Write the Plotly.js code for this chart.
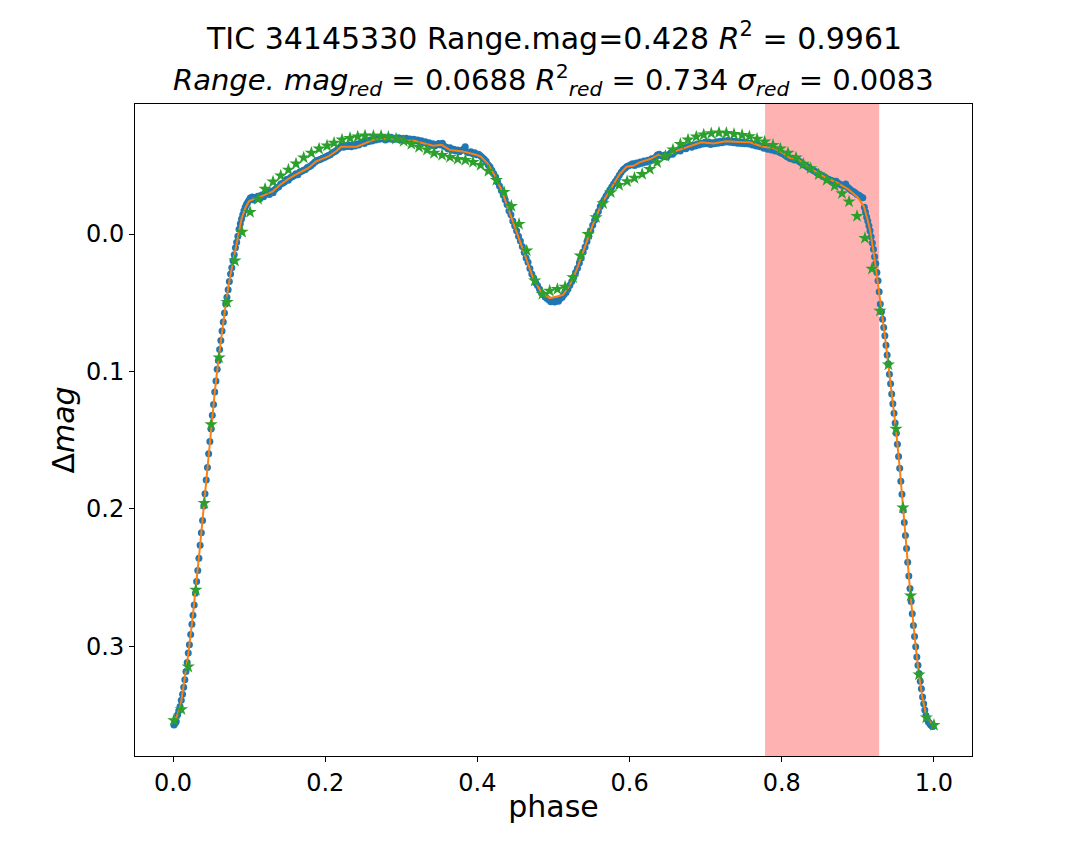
<!DOCTYPE html>
<html>
<head>
<meta charset="utf-8">
<script src="https://cdn.plot.ly/plotly-3.0.1.min.js"></script>
<style>html,body{margin:0;padding:0;background:#fff;}#chart{width:1080px;height:864px;}</style>
</head>
<body>
<div id="chart"></div>
<script>
// Blue observed points (phase, delta mag)
const obsPhase = [
0.0012,0.0030,0.0042,0.0060,0.0075,0.0092,0.0108,0.0125,0.0140,0.0155,0.0170,0.0186,0.0200,0.0215,0.0232,0.0248,0.0262,0.0278,0.0294,0.0310,
0.0325,0.0340,0.0356,0.0372,0.0388,0.0404,0.0420,0.0436,0.0452,0.0468,0.0484,0.0500,0.0516,0.0532,0.0548,0.0564,0.0580,0.0596,0.0612,0.0628,
0.0644,0.0660,0.0676,0.0692,0.0708,0.0724,0.0740,0.0756,0.0772,0.0788,0.0804,0.0820,0.0836,0.0852,0.0868,0.0884,0.0900,0.0916,0.0932,0.0948,
0.0964,0.0980,0.0996,
0.1015,0.1040,0.1065,0.1090,0.1115,0.1140,0.1165,0.1190,0.1215,0.1240,0.1265,0.1290,0.1315,0.1340,0.1365,0.1390,0.1415,0.1440,0.1465,0.1490,
0.1515,0.1540,0.1565,0.1590,0.1615,0.1640,0.1665,0.1690,0.1715,0.1740,0.1765,0.1790,0.1815,0.1840,0.1865,0.1890,0.1915,0.1940,0.1965,0.1990,
0.2015,0.2040,0.2065,0.2090,0.2115,0.2140,0.2165,0.2190,0.2215,0.2240,0.2265,0.2290,0.2315,0.2340,0.2365,0.2390,0.2415,0.2440,0.2465,0.2490,
0.2515,0.2540,0.2565,0.2590,0.2615,0.2640,0.2665,0.2690,0.2715,0.2740,0.2765,0.2790,0.2815,0.2840,0.2865,0.2890,0.2915,0.2940,0.2965,0.2990,
0.3015,0.3040,0.3065,0.3090,0.3115,0.3140,0.3165,0.3190,0.3215,0.3240,0.3265,0.3290,0.3315,0.3340,0.3365,0.3390,0.3415,0.3440,0.3465,0.3490,
0.3515,0.3540,0.3565,0.3590,0.3615,0.3640,0.3665,0.3690,0.3715,0.3740,0.3765,0.3790,0.3815,0.3840,0.3865,0.3890,0.3915,0.3940,0.3965,0.3990,
0.4015,0.4040,0.4065,0.4090,
0.4115,0.4140,0.4165,0.4190,0.4215,0.4240,0.4265,0.4290,0.4315,0.4340,0.4365,0.4390,0.4415,0.4440,0.4465,0.4490,0.4515,0.4540,0.4565,0.4590,
0.4615,0.4640,0.4665,0.4690,0.4715,0.4740,0.4765,0.4790,0.4815,0.4840,0.4865,0.4890,0.4915,0.4940,0.4965,0.4990,0.5015,0.5040,0.5065,0.5090,
0.5115,0.5140,0.5165,0.5190,0.5215,0.5240,0.5265,0.5290,0.5315,0.5340,0.5365,0.5390,0.5415,0.5440,0.5465,0.5490,0.5515,0.5540,0.5565,0.5590,
0.5615,0.5640,0.5665,0.5690,0.5715,0.5740,0.5765,0.5790,0.5815,0.5840,0.5865,0.5890,0.5915,0.5940,0.5965,0.5990,0.6015,
0.6040,0.6065,0.6090,0.6115,0.6140,0.6165,0.6190,0.6215,0.6240,0.6265,0.6290,0.6315,0.6340,0.6365,0.6390,0.6415,0.6440,0.6465,0.6490,0.6515,
0.6540,0.6565,0.6590,0.6615,0.6640,0.6665,0.6690,0.6715,0.6740,0.6765,0.6790,0.6815,0.6840,0.6865,0.6890,0.6915,0.6940,0.6965,0.6990,0.7015,
0.7040,0.7065,0.7090,0.7115,0.7140,0.7165,0.7190,0.7215,0.7240,0.7265,0.7290,0.7315,0.7340,0.7365,0.7390,0.7415,0.7440,0.7465,0.7490,0.7515,
0.7540,0.7565,0.7590,0.7615,0.7640,0.7665,0.7690,0.7715,0.7740,0.7765,0.7790,0.7815,0.7840,0.7865,0.7890,0.7915,0.7940,0.7965,0.7990,0.8015,
0.8040,0.8065,0.8090,0.8115,0.8140,0.8165,0.8190,0.8215,0.8240,0.8265,0.8290,0.8315,0.8340,0.8365,0.8390,0.8415,0.8440,0.8465,0.8490,0.8515,
0.8540,0.8565,0.8590,0.8615,0.8640,0.8665,0.8690,0.8715,0.8740,0.8765,0.8790,0.8815,0.8840,0.8865,0.8890,0.8915,0.8940,0.8965,0.8990,0.9015,
0.9040,0.9065,
0.9085,0.9100,0.9115,0.9130,0.9145,0.9160,0.9175,0.9190,0.9205,0.9220,0.9235,0.9250,0.9265,0.9280,0.9295,0.9310,0.9325,0.9340,0.9355,0.9370,
0.9385,0.9400,0.9415,0.9430,0.9445,0.9460,0.9475,0.9490,0.9505,0.9520,0.9535,0.9550,0.9565,0.9580,0.9595,0.9610,0.9625,0.9640,0.9655,0.9670,
0.9685,0.9700,0.9715,0.9730,0.9745,0.9760,0.9775,0.9790,0.9805,0.9820,0.9835,0.9850,0.9865,0.9880,0.9895,0.9910,0.9925,0.9940,0.9955,0.9970,
0.9985
];
const obsMag = [
0.3575,0.3560,0.3548,0.3500,0.3470,0.3440,0.3395,0.3350,0.3300,0.3245,0.3185,0.3120,0.3050,0.2990,0.2915,0.2840,0.2775,0.2700,0.2615,0.2530,
0.2450,0.2360,0.2265,0.2175,0.2085,0.1980,0.1890,0.1790,0.1700,0.1600,0.1510,0.1420,0.1320,0.1240,0.1150,0.1070,0.0985,0.0920,0.0840,0.0775,
0.0705,0.0640,0.0575,0.0510,0.0460,0.0405,0.0345,0.0290,0.0245,0.0195,0.0150,0.0100,0.0060,0.0015,-0.0035,-0.0075,-0.0110,-0.0140,-0.0170,-0.0195,
-0.0215,-0.0230,-0.0245,
-0.0262,-0.0270,-0.0248,-0.0268,-0.0275,-0.0258,-0.0285,-0.0272,-0.0290,-0.0302,-0.0288,-0.0312,-0.0300,-0.0325,-0.0338,-0.0345,-0.0365,-0.0370,-0.0380,-0.0398,
-0.0392,-0.0410,-0.0418,-0.0425,-0.0440,-0.0432,-0.0452,-0.0458,-0.0465,-0.0470,-0.0485,-0.0490,-0.0500,-0.0512,-0.0525,-0.0535,-0.0540,-0.0545,-0.0552,-0.0558,
-0.0565,-0.0572,-0.0578,-0.0590,-0.0598,-0.0605,-0.0618,-0.0630,-0.0642,-0.0632,-0.0645,-0.0638,-0.0648,-0.0635,-0.0650,-0.0642,-0.0655,-0.0648,-0.0665,-0.0670,
-0.0660,-0.0678,-0.0672,-0.0685,-0.0678,-0.0692,-0.0685,-0.0698,-0.0690,-0.0702,-0.0695,-0.0685,-0.0700,-0.0692,-0.0705,-0.0688,-0.0698,-0.0690,-0.0702,-0.0685,
-0.0695,-0.0688,-0.0698,-0.0682,-0.0692,-0.0680,-0.0690,-0.0678,-0.0685,-0.0672,-0.0680,-0.0665,-0.0672,-0.0658,-0.0665,-0.0650,-0.0658,-0.0642,-0.0650,-0.0660,
-0.0648,-0.0662,-0.0640,-0.0632,-0.0620,-0.0628,-0.0610,-0.0618,-0.0605,-0.0612,-0.0600,-0.0608,-0.0618,-0.0635,-0.0598,-0.0592,-0.0600,-0.0585,-0.0592,-0.0578,
-0.0582,-0.0570,-0.0558,-0.0545,
-0.0530,-0.0505,-0.0490,-0.0465,-0.0440,-0.0415,-0.0380,-0.0350,-0.0318,-0.0285,-0.0250,-0.0215,-0.0170,-0.0140,-0.0095,-0.0060,-0.0025,0.0015,0.0050,0.0090,
0.0135,0.0175,0.0205,0.0250,0.0290,0.0320,0.0355,0.0375,0.0400,0.0428,0.0440,0.0458,0.0470,0.0480,0.0492,0.0485,0.0495,0.0475,0.0490,0.0470,
0.0460,0.0440,0.0425,0.0400,0.0372,0.0345,0.0315,0.0280,0.0248,0.0210,0.0175,0.0130,0.0095,0.0055,0.0015,-0.0025,-0.0065,-0.0100,-0.0135,-0.0165,
-0.0200,-0.0228,-0.0250,-0.0275,-0.0298,-0.0320,-0.0342,-0.0365,-0.0385,-0.0405,-0.0428,-0.0450,-0.0468,-0.0480,-0.0492,-0.0498,-0.0505,
-0.0512,-0.0500,-0.0518,-0.0508,-0.0525,-0.0515,-0.0532,-0.0522,-0.0538,-0.0530,-0.0548,-0.0540,-0.0560,-0.0575,-0.0582,-0.0570,-0.0565,-0.0575,-0.0562,-0.0578,
-0.0590,-0.0582,-0.0598,-0.0605,-0.0612,-0.0605,-0.0620,-0.0628,-0.0622,-0.0635,-0.0640,-0.0632,-0.0648,-0.0642,-0.0655,-0.0648,-0.0662,-0.0655,-0.0668,-0.0658,
-0.0670,-0.0652,-0.0665,-0.0658,-0.0672,-0.0662,-0.0675,-0.0665,-0.0680,-0.0670,-0.0682,-0.0668,-0.0678,-0.0665,-0.0675,-0.0662,-0.0672,-0.0660,-0.0670,-0.0658,
-0.0668,-0.0655,-0.0662,-0.0648,-0.0655,-0.0642,-0.0650,-0.0635,-0.0642,-0.0625,-0.0635,-0.0618,-0.0628,-0.0612,-0.0620,-0.0605,-0.0612,-0.0598,-0.0590,-0.0585,
-0.0575,-0.0565,-0.0558,-0.0548,-0.0552,-0.0540,-0.0548,-0.0535,-0.0525,-0.0515,-0.0505,-0.0498,-0.0488,-0.0480,-0.0472,-0.0462,-0.0455,-0.0445,-0.0438,-0.0430,
-0.0420,-0.0415,-0.0405,-0.0400,-0.0392,-0.0388,-0.0380,-0.0385,-0.0370,-0.0362,-0.0355,-0.0350,-0.0365,-0.0340,-0.0330,-0.0318,-0.0310,-0.0300,-0.0288,-0.0282,
-0.0272,-0.0265,
-0.0195,-0.0160,-0.0125,-0.0095,-0.0060,-0.0025,0.0020,0.0065,0.0110,0.0165,0.0215,0.0280,0.0340,0.0420,0.0510,0.0565,0.0620,0.0680,0.0740,0.0810,
0.0880,0.0945,0.1020,0.1090,0.1165,0.1235,0.1305,0.1375,0.1450,0.1530,0.1620,0.1705,0.1800,0.1895,0.2010,0.2100,0.2195,0.2290,0.2390,0.2490,
0.2580,0.2675,0.2765,0.2850,0.2930,0.3005,0.3080,0.3140,0.3200,0.3255,0.3310,0.3370,0.3420,0.3465,0.3505,0.3530,0.3550,0.3560,0.3572,0.3580,
0.3585
];

// Orange fitted curve
const fitPhase = [
0.001,0.005,0.010,0.015,0.020,0.025,0.030,0.035,0.040,0.045,0.050,0.055,0.060,0.065,0.070,0.075,0.080,0.085,0.090,0.095,
0.100,0.106,0.112,0.118,0.125,0.131,0.140,0.151,0.164,0.177,0.188,0.204,0.215,0.221,0.241,0.252,0.265,0.274,0.300,0.318,
0.324,0.342,0.353,0.364,0.381,0.398,0.405,0.414,0.423,0.432,0.440,0.451,0.462,0.473,0.484,0.495,0.505,0.5125,0.521,0.530,
0.541,0.552,0.563,0.576,0.587,0.596,0.605,0.613,0.627,0.638,0.648,0.662,0.679,0.694,0.710,0.727,0.745,0.758,0.775,0.789,
0.800,0.811,0.821,0.832,0.846,0.859,0.872,0.887,0.900,0.908,0.912,0.916,0.921,0.925,0.929,0.935,0.940,0.945,0.950,0.955,
0.959,0.964,0.969,0.975,0.980,0.985,0.990,0.997
];
const fitMag = [
0.356,0.351,0.343,0.326,0.306,0.283,0.258,0.230,0.201,0.171,0.141,0.114,0.090,0.068,0.048,0.031,0.016,0.002,-0.011,-0.019,
-0.0240,-0.0255,-0.0265,-0.0280,-0.0296,-0.0310,-0.0356,-0.0400,-0.0441,-0.0478,-0.0529,-0.0565,-0.0607,-0.0636,-0.0636,-0.0663,-0.0689,-0.0694,-0.0689,-0.0680,
-0.0668,-0.0643,-0.0650,-0.0612,-0.0602,-0.0578,-0.0563,-0.0510,-0.0425,-0.0316,-0.0194,-0.0024,0.0146,0.0316,0.0425,0.0466,0.0455,0.0442,0.0376,0.0267,
0.0097,-0.0073,-0.0218,-0.0340,-0.0437,-0.0490,-0.0497,-0.0522,-0.0546,-0.0578,-0.0566,-0.0607,-0.0639,-0.0668,-0.0660,-0.0675,-0.0670,-0.0668,-0.0636,-0.0626,
-0.0595,-0.0554,-0.0546,-0.0497,-0.0449,-0.0408,-0.0376,-0.0328,-0.0267,-0.0200,-0.0120,-0.0030,0.0140,0.0300,0.0490,0.0720,0.0950,0.1180,0.1420,0.1700,
0.1980,0.2300,0.2620,0.2950,0.3200,0.3380,0.3510,0.3570
];

// Green stars (reduced model)
const redPhase = [
0.001,0.011,0.020,0.030,0.041,0.050,0.0605,0.071,0.0813,0.0907,0.1012,0.1117,0.1209,0.1314,0.1415,0.1516,0.1616,0.1717,0.1818,0.1919,
0.2024,0.2116,0.2221,0.2326,0.2427,0.2523,0.2633,0.2734,0.2830,0.2931,0.3031,0.3132,0.3233,0.3338,0.3430,0.3535,0.3640,0.3741,0.3842,0.3942,
0.4043,0.4144,0.4249,0.4350,0.4446,0.4547,0.4648,0.4753,0.4854,0.4950,0.5051,0.5152,0.5257,0.5353,0.5454,0.5559,0.5651,0.5752,0.5862,0.5967,
0.6064,0.6165,0.6265,0.6362,0.6471,0.6570,0.6667,0.6768,0.6877,0.6974,0.7074,0.7175,0.7272,0.7372,0.7478,0.7574,0.7675,0.7775,0.7885,0.7981,
0.8082,0.8187,0.8284,0.8380,0.8485,0.8590,0.8695,0.8792,0.8884,0.8989,0.9093,0.9185,0.9290,0.9401,0.9501,0.9593,0.9694,0.9803,0.9900,1.0000
];
const redMag = [
0.354,0.346,0.315,0.259,0.196,0.1386,0.090,0.0495,0.0194,-0.0015,-0.0160,-0.0255,-0.0328,-0.0381,-0.0425,-0.0468,-0.0512,-0.0556,-0.0590,-0.0621,
-0.0643,-0.0663,-0.0687,-0.0699,-0.0709,-0.0716,-0.0714,-0.0714,-0.0706,-0.0694,-0.0677,-0.0655,-0.0633,-0.0614,-0.0590,-0.0575,-0.0560,-0.0546,-0.0539,-0.0524,
-0.0502,-0.0459,-0.0393,-0.0306,-0.0204,-0.0073,0.0121,0.0340,0.0437,0.0413,0.0401,0.0384,0.0316,0.0158,0.0000,-0.0121,-0.0223,-0.0303,-0.0357,-0.0384,
-0.0408,-0.0437,-0.0473,-0.0522,-0.0568,-0.0614,-0.0655,-0.0687,-0.0709,-0.0723,-0.0733,-0.0738,-0.0735,-0.0728,-0.0721,-0.0711,-0.0692,-0.0672,-0.0648,-0.0621,
-0.0590,-0.0556,-0.0510,-0.0478,-0.0434,-0.0393,-0.0352,-0.0296,-0.0236,-0.0131,0.0030,0.0253,0.0559,0.0950,0.1419,0.1992,0.2632,0.3208,0.3520,0.3575
];

// Highlighted phase interval
const spanStart = 0.778;
const spanEnd = 0.928;

const xTickVals = [0.0, 0.2, 0.4, 0.6, 0.8, 1.0];
const xTickText = ['0.0', '0.2', '0.4', '0.6', '0.8', '1.0'];
const yTickVals = [0.0, 0.1, 0.2, 0.3];
const yTickText = ['0.0', '0.1', '0.2', '0.3'];

const titleLine1 = 'TIC 34145330 Range.mag=0.428 <i>R</i><sup>2</sup> = 0.9961';
const titleLine2 = '<i>Range.</i> <i>mag<sub>red</sub></i> = 0.0688 <i>R</i><sup>2</sup><sub><i>red</i></sub> = 0.734 <i>σ<sub>red</sub></i> = 0.0083';

const FONT = 'DejaVu Sans, sans-serif';

const traces = [
  {x: obsPhase, y: obsMag, type: 'scatter', mode: 'markers',
   marker: {color: '#1f77b4', size: 7, line: {width: 0}}, hoverinfo: 'skip'},
  {x: fitPhase, y: fitMag, type: 'scatter', mode: 'lines',
   line: {color: '#ff7f0e', width: 2}, hoverinfo: 'skip'},
  {x: redPhase, y: redMag, type: 'scatter', mode: 'markers',
   marker: {color: '#2ca02c', size: 10, symbol: 'star', line: {width: 0}}, hoverinfo: 'skip'}
];

const layout = {
  width: 1080, height: 864,
  margin: {l: 135, r: 108, t: 104, b: 108},
  paper_bgcolor: '#ffffff', plot_bgcolor: '#ffffff',
  showlegend: false,
  font: {family: FONT, color: '#000000'},
  xaxis: {
    range: [-0.05, 1.05], showgrid: false, zeroline: false,
    showline: true, mirror: true, linecolor: '#000000', linewidth: 1,
    ticks: 'outside', ticklen: 5, tickwidth: 1, tickcolor: '#000000',
    tickvals: xTickVals, ticktext: xTickText,
    tickfont: {family: FONT, size: 24, color: '#000000'},
    title: {text: 'phase', font: {family: FONT, size: 30, color: '#000000'}, standoff: 0}
  },
  yaxis: {
    range: [0.380, -0.0947], showgrid: false, zeroline: false,
    showline: true, mirror: true, linecolor: '#000000', linewidth: 1,
    ticks: 'outside', ticklen: 5, tickwidth: 1, tickcolor: '#000000',
    tickvals: yTickVals, ticktext: yTickText,
    tickfont: {family: FONT, size: 24, color: '#000000'},
    title: {text: 'Δ<i>mag</i>', font: {family: FONT, size: 30, color: '#000000'}, standoff: 2}
  },
  shapes: [{
    type: 'rect', xref: 'x', yref: 'paper', x0: spanStart, x1: spanEnd, y0: 0, y1: 1,
    fillcolor: 'rgba(255,0,0,0.3)', line: {width: 0}, layer: 'below'
  }],
  annotations: [
    {text: titleLine1, xref: 'paper', yref: 'paper', x: 0.5, y: 1.1028, xanchor: 'center', yanchor: 'middle',
     showarrow: false, font: {family: FONT, size: 30, color: '#000000'}},
    {text: titleLine2, xref: 'paper', yref: 'paper', x: 0.5, y: 1.0368, xanchor: 'center', yanchor: 'middle',
     showarrow: false, font: {family: FONT, size: 29, color: '#000000'}}
  ]
};

Plotly.newPlot('chart', traces, layout, {displayModeBar: false, staticPlot: true});
</script>
</body>
</html>
